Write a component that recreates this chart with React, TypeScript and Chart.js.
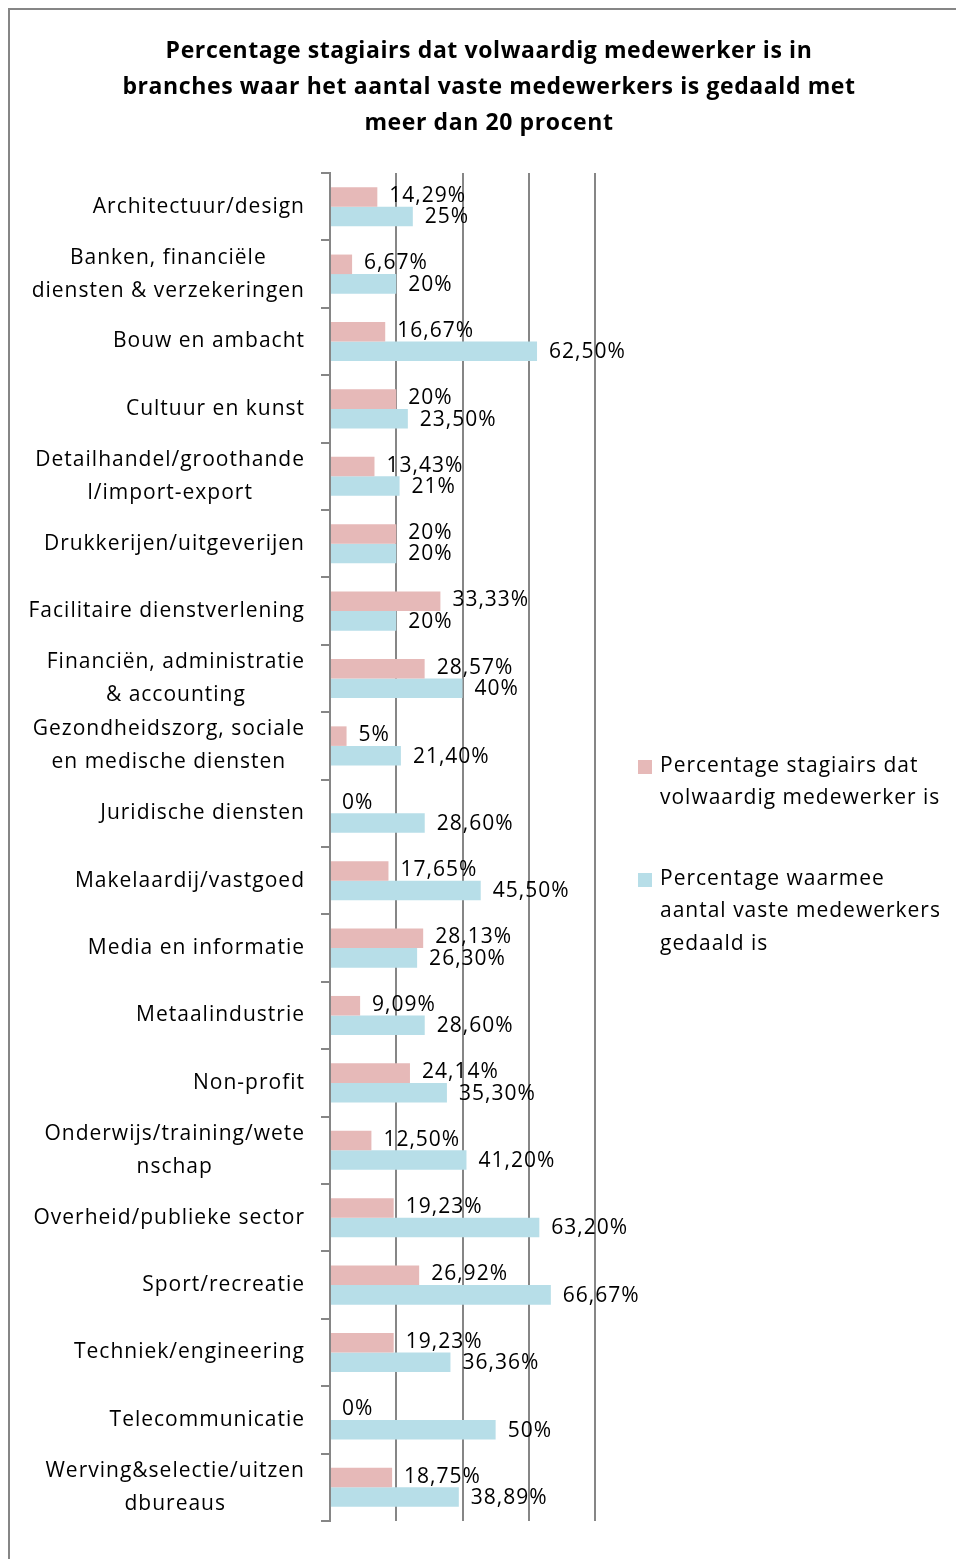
import React, { useEffect, useRef } from "react";
import { Chart, registerables } from "chart.js";

Chart.register(...registerables);

const titleLines = [
  "Percentage stagiairs dat volwaardig medewerker is in",
  "branches waar het aantal vaste medewerkers is gedaald met",
  "meer dan 20 procent",
];

const categories: string[][] = [
  ["Architectuur/design"],
  ["Banken, financiële", "diensten & verzekeringen"],
  ["Bouw en ambacht"],
  ["Cultuur en kunst"],
  ["Detailhandel/groothande", "l/import-export"],
  ["Drukkerijen/uitgeverijen"],
  ["Facilitaire dienstverlening"],
  ["Financiën, administratie", "& accounting"],
  ["Gezondheidszorg, sociale", "en medische diensten"],
  ["Juridische diensten"],
  ["Makelaardij/vastgoed"],
  ["Media en informatie"],
  ["Metaalindustrie"],
  ["Non-profit"],
  ["Onderwijs/training/wete", "nschap"],
  ["Overheid/publieke sector"],
  ["Sport/recreatie"],
  ["Techniek/engineering"],
  ["Telecommunicatie"],
  ["Werving&selectie/uitzen", "dbureaus"],
];

const stagiairs = [14.29, 6.67, 16.67, 20, 13.43, 20, 33.33, 28.57, 5, 0, 17.65, 28.13, 9.09, 24.14, 12.5, 19.23, 26.92, 19.23, 0, 18.75];
const gedaald = [25, 20, 62.5, 23.5, 21, 20, 20, 40, 21.4, 28.6, 45.5, 26.3, 28.6, 35.3, 41.2, 63.2, 66.67, 36.36, 50, 38.89];

const seriesNames: string[][] = [
  ["Percentage stagiairs dat", "volwaardig medewerker is"],
  ["Percentage waarmee", "aantal vaste medewerkers", "gedaald is"],
];

const xTicks = [0, 20, 40, 60, 80];

const PINK = "#E6B9B8";
const BLUE = "#B7DEE8";
const GRID = "#868686";
const FONT = "'Open Sans', 'Noto Sans', sans-serif";
const FS = 21;

const fmt = (v: number) =>
  (Number.isInteger(v) ? String(v) : v.toFixed(2).replace(".", ",")) + "%";

const labelPlugin = {
  id: "customText",
  beforeDraw(chart: any) {
    chart.ctx.letterSpacing = "0.6px";
  },
  afterDatasetsDraw(chart: any) {
    const ctx = chart.ctx;
    ctx.save();
    ctx.letterSpacing = "1px";
    ctx.font = `${FS}px ${FONT}`;
    ctx.fillStyle = "#000";
    ctx.textAlign = "left";
    ctx.textBaseline = "middle";
    chart.data.datasets.forEach((ds: any, di: number) => {
      const meta = chart.getDatasetMeta(di);
      meta.data.forEach((el: any, i: number) => {
        ctx.fillText(fmt(ds.data[i]), el.x + 12, el.y + (di === 0 ? -1 : 1));
      });
    });
    ctx.restore();
  },
  afterDraw(chart: any) {
    const ctx = chart.ctx;
    const y = chart.scales.y;
    const area = chart.chartArea;
    ctx.save();
    ctx.letterSpacing = "1px";
    ctx.font = `${FS}px ${FONT}`;
    ctx.fillStyle = "#000";
    ctx.textBaseline = "middle";
    ctx.textAlign = "left";
    const right = area.left - 26;
    const lh = 33;
    categories.forEach((lines, i) => {
      const cy = y.getPixelForValue(i);
      const widths = lines.map((l) => ctx.measureText(l).width - 1);
      const w = Math.max(...widths);
      lines.forEach((l, k) => {
        const x = right - w / 2 - widths[k] / 2;
        ctx.fillText(l, x, cy + (k - (lines.length - 1) / 2) * lh);
      });
    });
    // legend
    const lx = area.right + 43;
    const tops = [750, 863];
    const colors = [PINK, BLUE];
    seriesNames.forEach((lines, s) => {
      ctx.fillStyle = colors[s];
      ctx.fillRect(lx, tops[s], 14, 14);
      ctx.fillStyle = "#000";
      lines.forEach((l, k) => {
        ctx.fillText(l, lx + 22, tops[s] + 6 + k * 32.5);
      });
    });
    ctx.restore();
    ctx.letterSpacing = "0px";
  },
};

export default function App() {
  const ref = useRef<HTMLCanvasElement>(null);
  useEffect(() => {
    if (!ref.current) return;
    const chart = new Chart(ref.current, {
      type: "bar",
      data: {
        labels: categories.map((c) => c.join(" ")),
        datasets: [
          { label: seriesNames[0].join(" "), data: stagiairs, backgroundColor: PINK },
          { label: seriesNames[1].join(" "), data: gedaald, backgroundColor: BLUE },
        ],
      },
      options: {
        indexAxis: "y",
        animation: false,
        responsive: false,
        maintainAspectRatio: false,
        datasets: { bar: { categoryPercentage: 0.58, barPercentage: 1 } },
        layout: { padding: { left: 0, right: 0, top: 0, bottom: 38 } },
        plugins: {
          legend: { display: false },
          tooltip: { enabled: false },
          title: {
            display: true,
            text: titleLines,
            color: "#000",
            font: { family: FONT, size: 23, weight: "bold", lineHeight: 36 / 23 },
            padding: { top: 23, bottom: 32 },
          },
        },
        scales: {
          x: {
            min: xTicks[0],
            max: xTicks[xTicks.length - 1],
            afterBuildTicks: (s: any) => {
              s.ticks = xTicks.map((v) => ({ value: v }));
            },
            ticks: { display: false },
            grid: { color: GRID, lineWidth: 2, drawTicks: false },
            border: { display: false },
            afterFit: (s: any) => {
              s.height = 0;
            },
          },
          y: {
            ticks: { display: false },
            grid: { drawOnChartArea: false, drawTicks: true, tickLength: 9, color: GRID, lineWidth: 2, offset: true },
            border: { display: true, color: GRID, width: 2 },
            afterFit: (s: any) => {
              s.width = 320;
            },
          },
          yr: {
            type: "linear",
            axis: "y",
            position: "right",
            display: true,
            ticks: { display: false },
            grid: { display: false },
            border: { display: false },
            afterFit: (s: any) => {
              s.width = 373;
            },
          },
        },
      } as any,
      plugins: [labelPlugin],
    });
    return () => chart.destroy();
  }, []);
  return (
    <div
      style={{
        position: "absolute",
        left: 8,
        top: 8,
        width: 948,
        height: 1551,
        overflow: "hidden",
        borderLeft: `2px solid ${GRID}`,
        borderTop: `2px solid ${GRID}`,
        boxSizing: "border-box",
        background: "#fff",
      }}
    >
      <canvas ref={ref} width={958} height={1549} style={{ display: "block", width: 958, height: 1549 }} />
    </div>
  );
}
